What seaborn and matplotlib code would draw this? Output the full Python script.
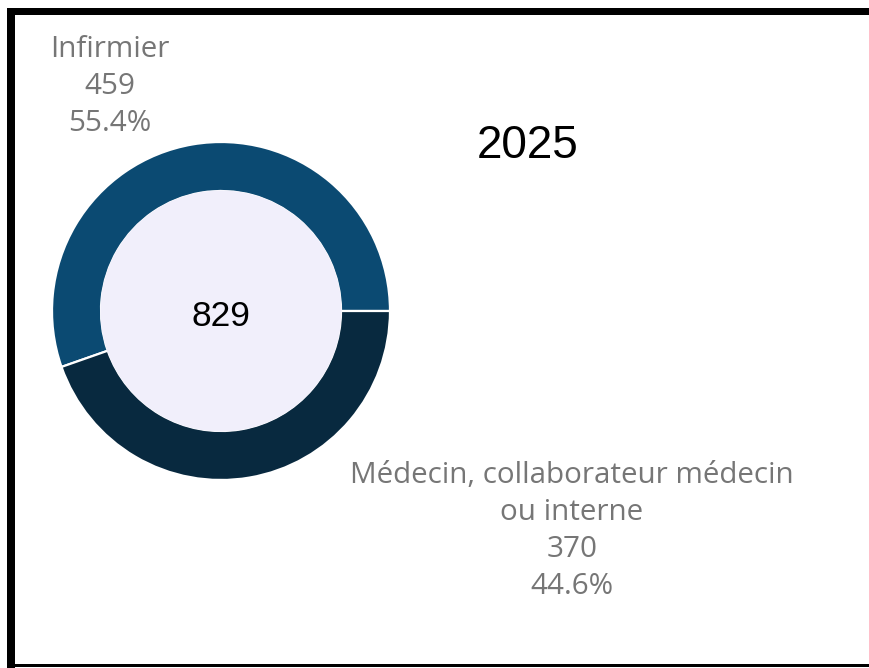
import matplotlib
matplotlib.use("Agg")
import matplotlib.pyplot as plt
from matplotlib.patches import Circle, Rectangle
import seaborn as sns

# data
categories = ["Infirmier", "Médecin, collaborateur médecin\nou interne"]
counts = [459, 370]
year_label = "2025"

W, H = 869, 668
sns.set_theme(style="white")
plt.rcParams["font.family"] = ["Open Sans", "DejaVu Sans"]

palette = sns.color_palette(["#0B4A72", "#08293F"])

fig = plt.figure(figsize=(W / 100, H / 100), dpi=100)
ax = fig.add_axes([0, 0, 1, 1])

total = sum(counts)
cx, cy = 221, H - 311
r_out, r_in = 169, 120

ax.pie(counts, colors=palette, startangle=0, counterclock=True,
       center=(cx, cy), radius=r_out,
       wedgeprops=dict(width=r_out - r_in, edgecolor="white", linewidth=1.6))
ax.add_patch(Circle((cx, cy), r_in + 0.6, facecolor="#F1EFFB", edgecolor="none", zorder=5))
ax.text(cx, H - 317, f"{total}", ha="center", va="center", fontsize=25.5,
        family="Liberation Sans", color="black", zorder=6)

ax.set_xlim(0, W)
ax.set_ylim(0, H)
ax.set_aspect("auto")
ax.axis("off")

# labels: category / count / percent
label_gray = "#767676"
label_spots = [(110, 57), (572, 483)]
for cat, n, (lx, ly) in zip(categories, counts, label_spots):
    lines = cat.split("\n") + [f"{n}", f"{n / total * 100:.1f}%"]
    for i, line in enumerate(lines):
        ax.text(lx, H - (ly + i * 37), line, ha="center", va="baseline",
                fontsize=21.3, color=label_gray)

ax.text(528, H - 158, year_label, ha="center", va="baseline", fontsize=33,
        family="Liberation Sans", color="black")

# frame around the picture (cut on the right)
for x0, y0, w, h in [(7, 8, W - 7, 7), (7, 8, 8, H - 8), (7, 664, W - 7, 3)]:
    fig.patches.append(Rectangle((x0 / W, 1 - (y0 + h) / H), w / W, h / H,
                                 transform=fig.transFigure, facecolor="black",
                                 edgecolor="none"))

fig.savefig("out.png", dpi=100, facecolor="white")
